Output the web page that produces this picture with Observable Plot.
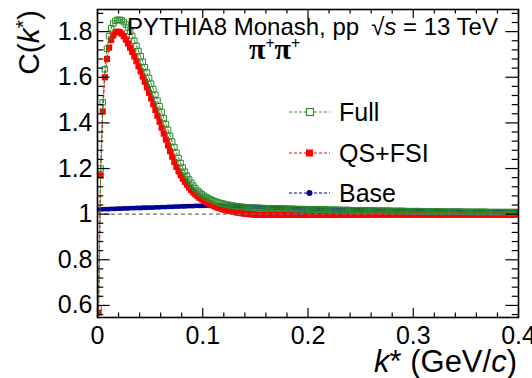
<!DOCTYPE html>
<html><head><meta charset="utf-8">
<script src="https://cdn.jsdelivr.net/npm/d3@7"></script>
<script src="https://cdn.jsdelivr.net/npm/@observablehq/plot@0.6"></script>
<style>html,body{margin:0;padding:0;background:#fff;} #chart{width:532px;height:378px;overflow:hidden;}</style>
</head><body><div id="chart"></div>
<script>
// bin centres: first centre and bin width (GeV/c)
const kFirst = 0.001, kStep = 0.002;

const full = [
0.587,1.200,1.490,1.635,1.725,1.780,1.815,1.836,1.847,1.852,
1.852,1.849,1.842,1.831,1.817,1.800,1.781,1.760,1.738,1.715,
1.692,1.668,1.644,1.620,1.596,1.572,1.548,1.523,1.498,1.473,
1.447,1.421,1.395,1.369,1.343,1.318,1.293,1.269,1.246,1.224,
1.204,1.186,1.169,1.152,1.138,1.125,1.114,1.103,1.095,1.088,
1.081,1.075,1.070,1.065,1.061,1.057,1.054,1.051,1.048,1.046,
1.044,1.042,1.040,1.038,1.037,1.035,1.034,1.033,1.032,1.031,
1.030,1.030,1.029,1.029,1.028,1.028,1.027,1.027,1.027,1.026,
1.026,1.026,1.025,1.025,1.025,1.025,1.024,1.024,1.024,1.024,
1.023,1.023,1.023,1.023,1.022,1.022,1.022,1.022,1.022,1.021,
1.021,1.021,1.021,1.021,1.020,1.020,1.020,1.020,1.020,1.019,
1.019,1.019,1.019,1.019,1.018,1.018,1.018,1.018,1.018,1.018,
1.017,1.017,1.017,1.017,1.017,1.017,1.016,1.016,1.016,1.016,
1.016,1.016,1.015,1.015,1.015,1.015,1.015,1.015,1.015,1.014,
1.014,1.014,1.014,1.014,1.014,1.014,1.013,1.013,1.013,1.013,
1.013,1.013,1.013,1.013,1.012,1.012,1.012,1.012,1.012,1.012,
1.012,1.012,1.012,1.011,1.011,1.011,1.011,1.011,1.011,1.011,
1.011,1.011,1.011,1.010,1.010,1.010,1.010,1.010,1.010,1.010,
1.010,1.010,1.010,1.010,1.010,1.009,1.009,1.009,1.009,1.009,
1.009,1.009,1.009,1.009,1.009,1.009,1.009,1.009,1.009,1.009
];

const qsfsi = [
0.568,1.170,1.450,1.600,1.680,1.730,1.764,1.784,1.796,1.800,
1.798,1.791,1.780,1.765,1.748,1.730,1.711,1.691,1.670,1.648,
1.626,1.603,1.580,1.556,1.532,1.507,1.482,1.457,1.431,1.405,
1.379,1.353,1.327,1.301,1.276,1.252,1.229,1.207,1.188,1.171,
1.156,1.142,1.129,1.117,1.106,1.096,1.087,1.079,1.072,1.065,
1.059,1.053,1.048,1.043,1.039,1.035,1.031,1.028,1.025,1.022,
1.019,1.017,1.015,1.013,1.011,1.009,1.007,1.006,1.004,1.003,
1.002,1.001,1.000,0.999,0.998,0.998,0.997,0.997,0.997,0.997,
0.997,0.997,0.997,0.997,0.997,0.997,0.997,0.997,0.997,0.997,
0.997,0.997,0.997,0.997,0.997,0.997,0.997,0.997,0.997,0.997,
0.997,0.997,0.997,0.997,0.997,0.997,0.997,0.997,0.997,0.997,
0.997,0.997,0.997,0.997,0.997,0.997,0.997,0.997,0.997,0.997,
0.997,0.997,0.997,0.997,0.997,0.997,0.997,0.997,0.997,0.997,
0.998,0.998,0.998,0.998,0.998,0.998,0.998,0.998,0.998,0.998,
0.998,0.998,0.998,0.998,0.998,0.998,0.998,0.998,0.998,0.998,
0.998,0.998,0.998,0.998,0.998,0.998,0.998,0.998,0.998,0.998,
0.998,0.998,0.998,0.998,0.998,0.998,0.998,0.998,0.998,0.998,
0.998,0.998,0.998,0.998,0.998,0.998,0.998,0.998,0.998,0.998,
0.998,0.998,0.998,0.998,0.998,0.998,0.998,0.998,0.998,0.998,
0.998,0.998,0.998,0.998,0.998,0.998,0.998,0.998,0.998,0.998
];

const base = [
1.020,1.021,1.021,1.022,1.022,1.022,1.023,1.023,1.023,1.024,
1.024,1.024,1.025,1.025,1.025,1.026,1.026,1.026,1.027,1.027,
1.027,1.028,1.028,1.028,1.029,1.029,1.029,1.030,1.030,1.030,
1.031,1.031,1.031,1.032,1.032,1.032,1.033,1.033,1.033,1.034,
1.034,1.034,1.035,1.035,1.035,1.035,1.036,1.036,1.036,1.036,
1.036,1.037,1.037,1.037,1.037,1.037,1.037,1.037,1.037,1.036,
1.036,1.036,1.036,1.035,1.035,1.035,1.034,1.034,1.034,1.033,
1.033,1.033,1.032,1.032,1.032,1.031,1.031,1.031,1.030,1.030,
1.030,1.029,1.029,1.029,1.028,1.028,1.028,1.027,1.027,1.027,
1.026,1.026,1.026,1.026,1.025,1.025,1.025,1.025,1.024,1.024,
1.024,1.024,1.023,1.023,1.023,1.023,1.022,1.022,1.022,1.022,
1.021,1.021,1.021,1.021,1.021,1.020,1.020,1.020,1.020,1.020,
1.019,1.019,1.019,1.019,1.019,1.018,1.018,1.018,1.018,1.018,
1.017,1.017,1.017,1.017,1.017,1.017,1.016,1.016,1.016,1.016,
1.016,1.016,1.015,1.015,1.015,1.015,1.015,1.015,1.014,1.014,
1.014,1.014,1.014,1.014,1.014,1.013,1.013,1.013,1.013,1.013,
1.013,1.013,1.012,1.012,1.012,1.012,1.012,1.012,1.012,1.012,
1.011,1.011,1.011,1.011,1.011,1.011,1.011,1.011,1.011,1.010,
1.010,1.010,1.010,1.010,1.010,1.010,1.010,1.010,1.010,1.010,
1.009,1.009,1.009,1.009,1.009,1.009,1.009,1.009,1.009,1.009
];

const seriesNames = ["Full", "QS+FSI", "Base"];
const seriesColors = ["#2e8b2e", "#ff0000", "#000099"];

const xTicks = [0, 0.1, 0.2, 0.3, 0.4];
const xMinor = [0.02,0.04,0.06,0.08,0.12,0.14,0.16,0.18,0.22,0.24,0.26,0.28,0.32,0.34,0.36,0.38];
const yTicks = [0.6, 0.8, 1, 1.2, 1.4, 1.6, 1.8];
const yMinor = [0.56,0.64,0.68,0.72,0.76,0.84,0.88,0.92,0.96,1.04,1.08,1.12,1.16,1.24,1.28,1.32,1.36,1.44,1.48,1.52,1.56,1.64,1.68,1.72,1.76,1.84,1.88];
const refLine = [1];

// layout
const W = 532, H = 378, mL = 97, mR = 14, mT = 9, mB = 61;
const pw = W - mL - mR, ph = H - mT - mB;
const FONT = "'Liberation Sans', Arial, Helvetica, sans-serif";

const kOf = i => +(kFirst + kStep * i).toFixed(3);
const toRows = (vals, name) => vals.map((v, i) => ({k: kOf(i), v, series: name}));
const rFull = toRows(full, "Full"), rQS = toRows(qsfsi, "QS+FSI"), rBase = toRows(base, "Base");

const majX = 9, minX = 4.6, majY = 12.6, minY = 6.3;

const svg = Plot.plot({
  width: W, height: H,
  marginLeft: mL, marginRight: mR, marginTop: mT, marginBottom: mB,
  style: {fontFamily: FONT, fontSize: "25px", background: "white", color: "black"},
  x: {domain: [0, 0.4], axis: null},
  y: {domain: [0.547, 1.897], axis: null},
  marks: [
    // Base
    Plot.line(rBase, {x: "k", y: "v", stroke: seriesColors[2], strokeWidth: 1, strokeDasharray: "3,2", clip: true}),
    Plot.dot(rBase, {x: "k", y: "v", r: 2.4, fill: seriesColors[2], stroke: "none", clip: true}),
    // QS+FSI
    Plot.line(rQS, {x: "k", y: "v", stroke: seriesColors[1], strokeWidth: 1, strokeDasharray: "3,2", clip: true}),
    Plot.dot(rQS, {x: "k", y: "v", symbol: "square", r: 3.5, fill: seriesColors[1], stroke: "none", clip: true}),
    // Full
    Plot.line(rFull, {x: "k", y: "v", stroke: seriesColors[0], strokeWidth: 1, strokeDasharray: "3,2", clip: true}),
    Plot.dot(rFull, {x: "k", y: "v", symbol: "square", r: 3.1, fill: "none", stroke: seriesColors[0], strokeWidth: 1, clip: true}),
    // reference line
    Plot.ruleY(refLine, {stroke: "#707070", strokeWidth: 1.2, strokeDasharray: "4,3"}),
    // ticks, inward on all four sides
    Plot.tickX(xTicks, {x: d => d, insetTop: ph - majX, stroke: "black", strokeWidth: 1.2}),
    Plot.tickX(xMinor, {x: d => d, insetTop: ph - minX, stroke: "black", strokeWidth: 1.2}),
    Plot.tickX(xTicks, {x: d => d, insetBottom: ph - majX, stroke: "black", strokeWidth: 1.2}),
    Plot.tickX(xMinor, {x: d => d, insetBottom: ph - minX, stroke: "black", strokeWidth: 1.2}),
    Plot.tickY(yTicks, {y: d => d, insetRight: pw - majY, stroke: "black", strokeWidth: 1.2}),
    Plot.tickY(yMinor, {y: d => d, insetRight: pw - minY, stroke: "black", strokeWidth: 1.2}),
    Plot.tickY(yTicks, {y: d => d, insetLeft: pw - majY, stroke: "black", strokeWidth: 1.2}),
    Plot.tickY(yMinor, {y: d => d, insetLeft: pw - minY, stroke: "black", strokeWidth: 1.2}),
    // tick labels
    Plot.text(xTicks, {x: d => d, text: d => String(d), frameAnchor: "bottom", lineAnchor: "top", dy: 9, fontSize: 25, fill: "black"}),
    Plot.text(yTicks, {y: d => d, text: d => String(d), frameAnchor: "left", textAnchor: "end", dx: -5, fontSize: 25, fill: "black"}),
    Plot.frame({stroke: "black", strokeWidth: 1.6})
  ]
});
document.getElementById("chart").appendChild(svg);

// annotations, axis titles and legend
const s = d3.select(svg);
const g = s.append("g").attr("font-family", FONT).attr("fill", "black").attr("text-anchor", "start");

// x-axis title
const xt = g.append("text").attr("x", W - mR - 1).attr("y", 372).attr("text-anchor", "end").attr("font-size", 31);
xt.append("tspan").attr("font-style", "italic").text("k");
xt.append("tspan").text("* (GeV/");
xt.append("tspan").attr("font-style", "italic").text("c");
xt.append("tspan").text(")");

// y-axis title
const yt = g.append("text").attr("transform", `translate(39,${mT + 1}) rotate(-90)`).attr("text-anchor", "end").attr("font-size", 30);
yt.append("tspan").text("C(");
yt.append("tspan").attr("font-style", "italic").text("k");
yt.append("tspan").attr("font-size", 21).attr("dy", -9).text("*");
yt.append("tspan").attr("dy", 9).text(")");

// header text
const ht = g.append("text").attr("x", 127).attr("y", 35).attr("font-size", 24).attr("text-anchor", "start");
ht.append("tspan").text("PYTHIA8 Monash, pp");
ht.append("tspan").attr("dx", 12).text("\u221A");
ht.append("tspan").attr("font-style", "italic").text("s");
ht.append("tspan").text(" = 13 TeV");

// particle pair label
const pt = g.append("text").attr("x", 249).attr("y", 59).attr("text-anchor", "start")
  .attr("font-family", "'Liberation Serif', 'DejaVu Serif', serif").attr("font-weight", "bold").attr("font-size", 30);
pt.append("tspan").text("\u03C0");
pt.append("tspan").attr("font-size", 16).attr("dy", -10).text("+");
pt.append("tspan").attr("dy", 10).text("\u03C0");
pt.append("tspan").attr("font-size", 16).attr("dy", -10).text("+");

// legend
const legRows = [112, 153, 193];
seriesNames.forEach((name, i) => {
  const y = legRows[i], c = seriesColors[i];
  g.append("line").attr("x1", 289).attr("x2", 330).attr("y1", y).attr("y2", y)
    .attr("stroke", c).attr("stroke-width", 1).attr("stroke-dasharray", "3,2");
  if (i === 0) g.append("rect").attr("x", 306.5).attr("y", y - 3.5).attr("width", 7).attr("height", 7).attr("fill", "white").attr("stroke", c).attr("stroke-width", 1.2);
  else if (i === 1) g.append("rect").attr("x", 306).attr("y", y - 3.5).attr("width", 7).attr("height", 7).attr("fill", c);
  else g.append("circle").attr("cx", 309.5).attr("cy", y).attr("r", 3).attr("fill", c);
  g.append("text").attr("x", 339).attr("y", y + 9).attr("font-size", 25).attr("text-anchor", "start").text(name);
});
</script>
</body></html>
